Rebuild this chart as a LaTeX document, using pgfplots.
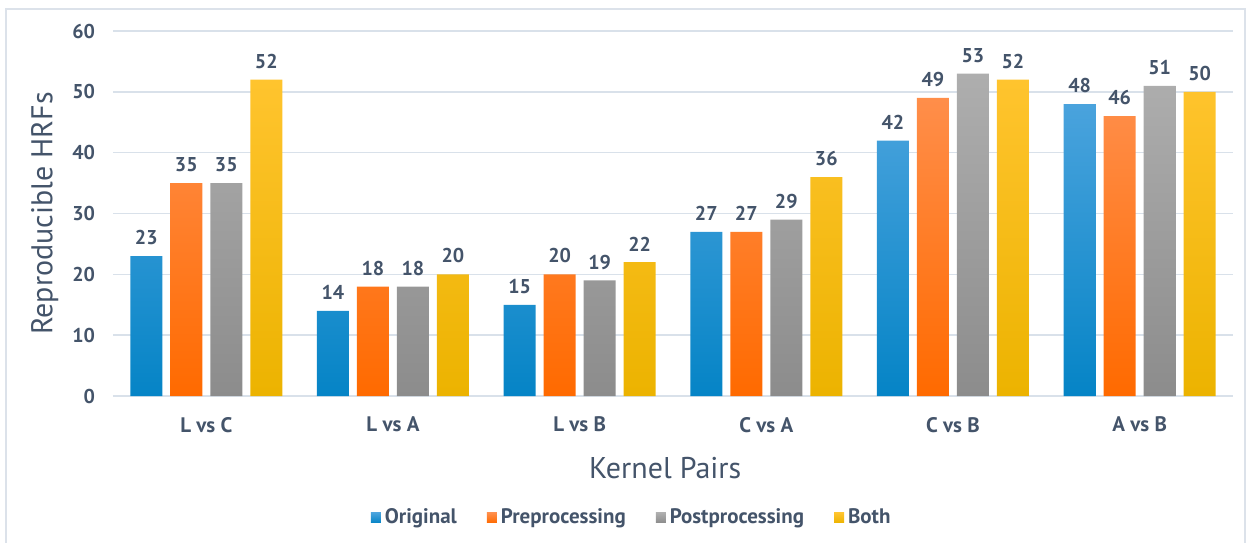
\documentclass[border=0pt]{standalone}
\usepackage{pgfplots}
\pgfplotsset{compat=1.18}
\usepackage{fontspec}
\setmainfont{PT Sans}

\definecolor{textc}{HTML}{44546A}
\definecolor{gridc}{HTML}{D9E1EA}
\definecolor{framec}{HTML}{DCE2EA}
\definecolor{blueT}{HTML}{4AA3DD}
\definecolor{blueB}{HTML}{0584C6}
\definecolor{orangeT}{HTML}{FF8E4A}
\definecolor{orangeB}{HTML}{FF6A00}
\definecolor{greyT}{HTML}{AEAEAE}
\definecolor{greyB}{HTML}{8C8C8C}
\definecolor{yellowT}{HTML}{FFC42E}
\definecolor{yellowB}{HTML}{ECB300}

% Reproducible HRFs per kernel pair (0 = L vs C, ..., 5 = A vs B)
\pgfplotstableread{
x val
0 23
1 14
2 15
3 27
4 42
5 48
}\original
\pgfplotstableread{
x val
0 35
1 18
2 20
3 27
4 49
5 46
}\preproc
\pgfplotstableread{
x val
0 35
1 18
2 19
3 29
4 53
5 51
}\postproc
\pgfplotstableread{
x val
0 52
1 20
2 22
3 36
4 52
5 50
}\both

\begin{document}
\begin{tikzpicture}
\useasboundingbox (0,0) rectangle (625pt,271pt);
\draw[framec, line width=0.8pt] (3pt,-5pt) rectangle (622.5pt,266.5pt);
\begin{axis}[
  at={(56.5pt,73pt)}, anchor=south west,
  scale only axis,
  width=560pt, height=182.5pt,
  /pgf/number format/assume math mode=true,
  ybar=4pt, bar width=16pt,
  xmin=-0.5, xmax=5.5,
  ymin=0, ymax=60,
  ytick={0,10,...,60},
  xtick=data,
  xticklabels={L vs C, L vs A, L vs B, C vs A, C vs B, A vs B},
  ymajorgrids,
  grid style={gridc, line width=0.8pt},
  axis x line*=bottom, axis y line*=left,
  x axis line style={gridc, line width=1pt},
  y axis line style={draw=none},
  tick style={draw=none},
  major tick length=0pt,
  tick label style={font=\fontsize{10}{12}\selectfont\bfseries, text=textc},
  yticklabel style={xshift=-5.5pt},
  xticklabel style={yshift=-7pt, font=\fontsize{10.5}{12}\selectfont\bfseries},
  every axis x label/.style={at={(axis description cs:0.493,-0.197)}, anchor=center},
  every axis y label/.style={at={(axis description cs:-0.061,0.5)}, rotate=90, anchor=center},
  xlabel={Kernel Pairs},
  ylabel={Reproducible HRFs},
  label style={font=\fontsize{15}{18}\selectfont, text=textc},
  nodes near coords,
  every node near coord/.append style={font=\fontsize{10}{12}\selectfont\bfseries, text=textc, yshift=2pt},
  legend columns=4,
  legend style={at={(axis description cs:0.464,-0.334)}, anchor=center,
    draw=none, fill=none, font=\fontsize{10.5}{12}\selectfont\bfseries, text=textc,
    /tikz/every even column/.append style={column sep=13pt}},
  legend image code/.code={\fill[#1] (0pt,-2.5pt) rectangle (5pt,2.5pt);},
]
\addplot[draw=none, top color=blueT, bottom color=blueB] table[x=x,y=val] {\original};
\addplot[draw=none, top color=orangeT, bottom color=orangeB] table[x=x,y=val] {\preproc};
\addplot[draw=none, top color=greyT, bottom color=greyB] table[x=x,y=val] {\postproc};
\addplot[draw=none, top color=yellowT, bottom color=yellowB] table[x=x,y=val] {\both};
\legend{Original, Preprocessing, Postprocessing, Both}
\end{axis}
\end{tikzpicture}
\end{document}
